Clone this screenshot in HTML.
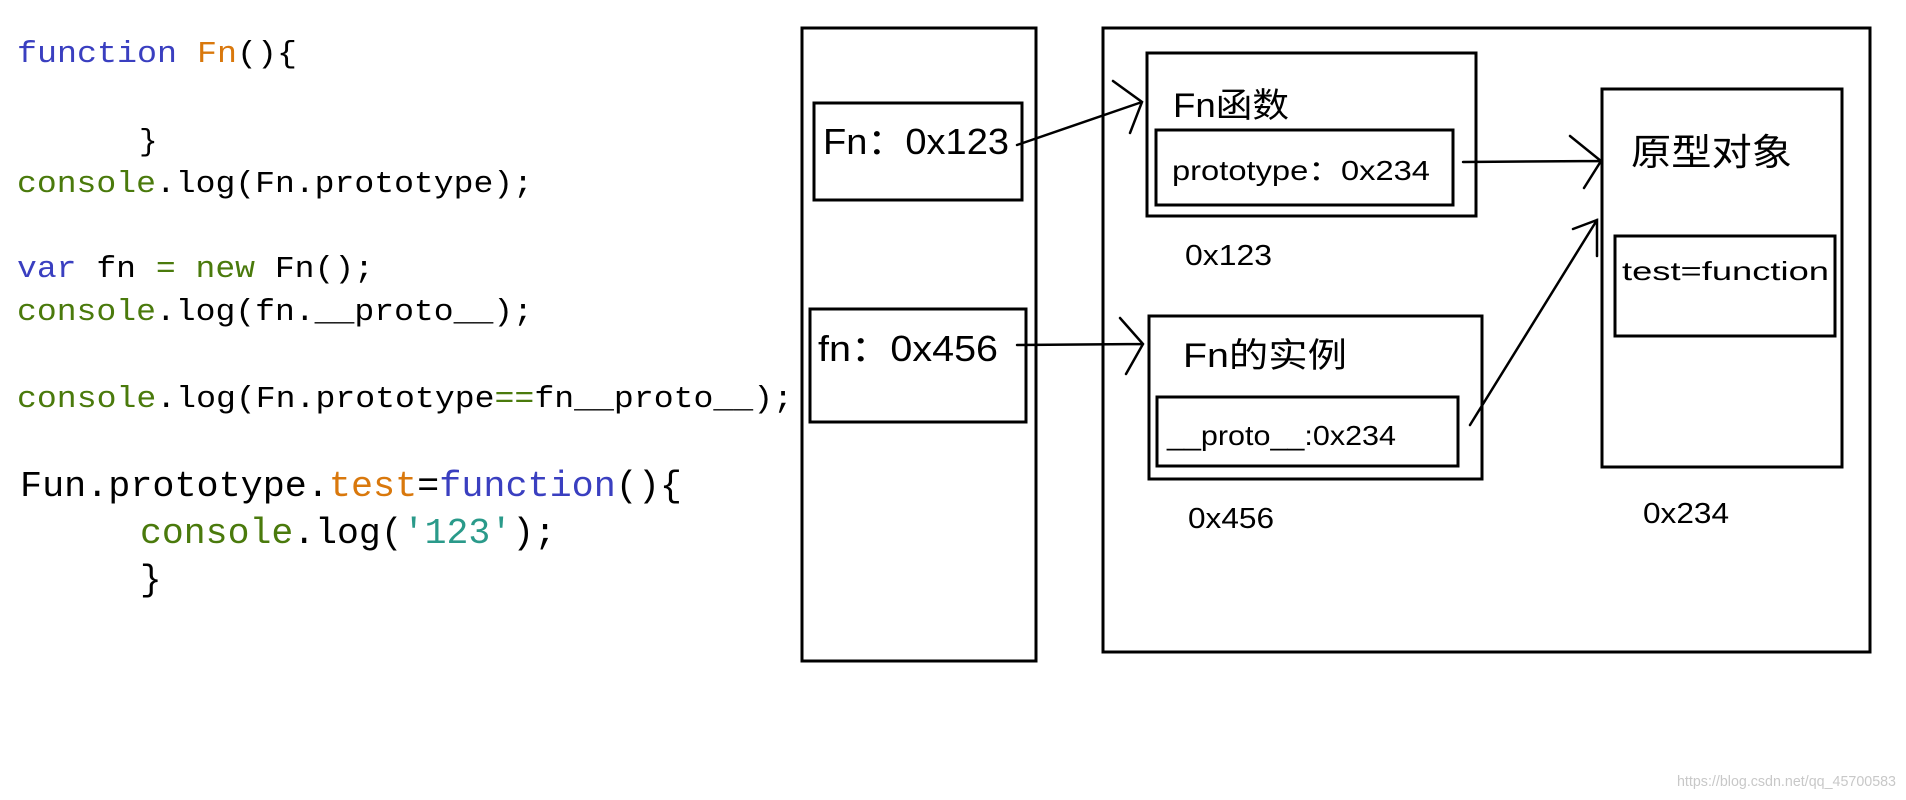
<!DOCTYPE html>
<html><head><meta charset="utf-8"><style>
html,body{margin:0;padding:0;background:#fff;width:1906px;height:800px;overflow:hidden}
svg{display:block}
.code{font-family:"Liberation Mono","DejaVu Sans Mono",monospace}
.lbl{font-family:"Liberation Sans","Noto Sans CJK SC",sans-serif;fill:#000}
</style></head><body>
<svg width="1906" height="800" viewBox="0 0 1906 800" xmlns="http://www.w3.org/2000/svg">
<g class="code" font-size="31">
<text x="17" y="62" textLength="280" lengthAdjust="spacingAndGlyphs"><tspan fill="#3a3fc0">function </tspan><tspan fill="#d9780c">Fn</tspan><tspan fill="#000">(){</tspan></text>
<text x="139" y="150" fill="#000">}</text>
<text x="17" y="192" textLength="516" lengthAdjust="spacingAndGlyphs"><tspan fill="#4a7a0c">console</tspan><tspan fill="#000">.log(Fn.prototype);</tspan></text>
<text x="17" y="277" textLength="357" lengthAdjust="spacingAndGlyphs"><tspan fill="#3a3fc0">var </tspan><tspan fill="#000">fn </tspan><tspan fill="#4a7a0c">= new </tspan><tspan fill="#000">Fn();</tspan></text>
<text x="17" y="320" textLength="516" lengthAdjust="spacingAndGlyphs"><tspan fill="#4a7a0c">console</tspan><tspan fill="#000">.log(fn.__proto__);</tspan></text>
<text x="17" y="407" textLength="776" lengthAdjust="spacingAndGlyphs"><tspan fill="#4a7a0c">console</tspan><tspan fill="#000">.log(Fn.prototype</tspan><tspan fill="#4a7a0c">==</tspan><tspan fill="#000">fn__proto__);</tspan></text>
</g>
<g class="code" font-size="36">
<text x="20" y="496" textLength="662" lengthAdjust="spacingAndGlyphs"><tspan fill="#000">Fun.prototype.</tspan><tspan fill="#d9780c">test</tspan><tspan fill="#000">=</tspan><tspan fill="#3a3fc0">function</tspan><tspan fill="#000">(){</tspan></text>
<text x="140" y="543" textLength="416" lengthAdjust="spacingAndGlyphs"><tspan fill="#4a7a0c">console</tspan><tspan fill="#000">.log(</tspan><tspan fill="#2a9a8a">'123'</tspan><tspan fill="#000">);</tspan></text>
<text x="140" y="590" fill="#000">}</text>
</g>
<g fill="none" stroke="#000" stroke-width="3">
<rect x="802" y="28" width="234" height="633"/>
<rect x="1103" y="28" width="767" height="624"/>
<rect x="814" y="103" width="208" height="97"/>
<rect x="810" y="309" width="216" height="113"/>
<rect x="1147" y="53" width="329" height="163"/>
<rect x="1156" y="130" width="297" height="75"/>
<rect x="1149" y="316" width="333" height="163"/>
<rect x="1157" y="397" width="301" height="69"/>
<rect x="1602" y="89" width="240" height="378"/>
<rect x="1615" y="236" width="220" height="100"/>
</g>
<g fill="none" stroke="#000" stroke-width="2.5" stroke-linecap="round">
<path d="M1017 145 L1142 102 M1113 81 L1142 102 L1130 133"/>
<path d="M1017 345 L1143 344 M1120 318 L1143 344 L1126 374"/>
<path d="M1463 162 L1601 161 M1570 136 L1601 161 L1584 188"/>
<path d="M1470 425 L1597 220 M1573 229 L1597 220 L1597 256"/>
</g>
<g class="lbl">
<text x="823" y="154" font-size="36" textLength="186" lengthAdjust="spacingAndGlyphs">Fn：0x123</text>
<text x="818" y="361" font-size="36" textLength="180" lengthAdjust="spacingAndGlyphs">fn：0x456</text>
<text x="1173" y="117" font-size="34" textLength="116" lengthAdjust="spacingAndGlyphs">Fn函数</text>
<text x="1172" y="180" font-size="28" textLength="258" lengthAdjust="spacingAndGlyphs">prototype：0x234</text>
<text x="1185" y="265" font-size="29" textLength="87" lengthAdjust="spacingAndGlyphs">0x123</text>
<text x="1183" y="367" font-size="34" textLength="164" lengthAdjust="spacingAndGlyphs">Fn的实例</text>
<text x="1167" y="445" font-size="28" textLength="229" lengthAdjust="spacingAndGlyphs">__proto__:0x234</text>
<text x="1188" y="528" font-size="29" textLength="86" lengthAdjust="spacingAndGlyphs">0x456</text>
<text x="1631" y="165" font-size="37" textLength="161" lengthAdjust="spacingAndGlyphs">原型对象</text>
<text x="1622" y="280" font-size="26" textLength="207" lengthAdjust="spacingAndGlyphs">test=function</text>
<text x="1643" y="523" font-size="29" textLength="86" lengthAdjust="spacingAndGlyphs">0x234</text>
<text x="1677" y="786" font-size="15" fill="#c8c8c8" style="fill:#c8c8c8" textLength="219" lengthAdjust="spacingAndGlyphs">https://blog.csdn.net/qq_45700583</text>
</g>
</svg>
</body></html>
